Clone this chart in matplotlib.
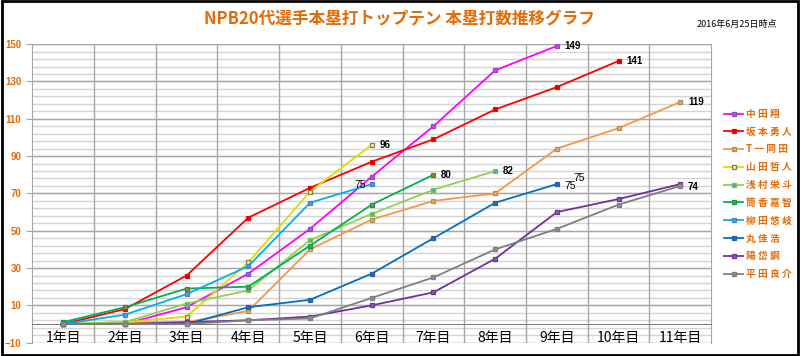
import matplotlib
matplotlib.use("Agg")
import matplotlib.pyplot as plt
from matplotlib.patches import Rectangle
import numpy as np

plt.rcParams['font.family'] = ['Noto Sans CJK JP', 'DejaVu Sans']

years = ["1年目", "2年目", "3年目", "4年目", "5年目", "6年目",
         "7年目", "8年目", "9年目", "10年目", "11年目"]

names = ["中 田 翔", "坂 本 勇 人", "T 一 岡 田", "山 田 哲 人", "浅 村 栄 斗",
         "筒 香 嘉 智", "柳 田 悠 岐", "丸 佳 浩", "陽 岱 鋼", "平 田 良 介"]

nakata = [0, 0, 9, 27, 51, 79, 106, 136, 149]
sakamoto = [0, 8, 26, 57, 73, 87, 99, 115, 127, 141]
okada = [0, 1, 1, 7, 40, 56, 66, 70, 94, 105, 119]
yamada = [0, 1, 4, 33, 71, 96]
asamura = [0, 1, 11, 18, 45, 59, 72, 82]
tsutsugo = [1, 9, 19, 20, 42, 64, 80]
yanagita = [0, 5, 16, 31, 65, 75]
maru = [0, 0, 0, 9, 13, 27, 46, 65, 75]
yoh = [0, 0, 1, 2, 4, 10, 17, 35, 60, 67, 75]
hirata = [0, 0, 0, 2, 3, 14, 25, 40, 51, 64, 74]

series = [nakata, sakamoto, okada, yamada, asamura,
          tsutsugo, yanagita, maru, yoh, hirata]

# line colour, marker face, marker edge
styles = [
    ("#FF00FF", "#E040E0", "#7A50C8"),
    ("#FF0000", "#D00000", "#FF0000"),
    ("#F79646", "#F4A460", "#A8905A"),
    ("#DDDD00", "#F4F4A0", "#8A7A40"),
    ("#92D050", "#4BACC6", "#7CBF50"),
    ("#00B050", "#C07030", "#00A050"),
    ("#00B0F0", "#30A8E8", "#4F81BD"),
    ("#0070C0", "#4060A8", "#2060B0"),
    ("#7030A0", "#8064A2", "#7030A0"),
    ("#7F7F7F", "#8C8CA0", "#7F7F7F"),
]

# label offsets in points for the last value of each series
label_offsets = [(5.5, 0), (5.5, 0), (5.5, 0), (5.5, 0), (5.5, 0),
                 (5.5, 0), (-4, -1), (5.5, -1.5), (-73, 4.5), (5.5, -1)]

orange = "#E36C09"

fig = plt.figure(figsize=(8, 3.56), dpi=100)
ax = fig.add_axes([0.0404, 0.0374, 0.8486, 0.8386])

x_all = np.arange(1, len(years) + 1)

# grid
for v in np.arange(-10, 151, 4):
    ax.axhline(v, color="#D4D4D4", lw=1, zorder=0)
for v in np.arange(-10, 151, 20):
    ax.axhline(v, color="#A6A6A6", lw=1, zorder=0.5)
for b in np.arange(1.5, len(years), 1):
    ax.axvline(b, color="#A6A6A6", lw=1, zorder=0.5)

for i, (vals, (lc, mfc, mec), name) in enumerate(zip(series, styles, names)):
    xs = x_all[:len(vals)]
    ax.plot(xs, vals, color=lc, lw=1.3, marker="s", markersize=3.5,
            markerfacecolor=mfc, markeredgecolor=mec, markeredgewidth=0.9,
            label=name, zorder=3 + i * 0.1)
    dx, dy = label_offsets[i]
    last = vals[-1]
    bold = "normal" if last == 75 else "bold"
    ha = "left" if dx > 0 else ("right" if dx > -20 else "center")
    ax.annotate(str(last), (xs[-1], last), xytext=(dx, dy),
                textcoords="offset points", ha=ha, va="center",
                fontsize=7.5 if last == 75 else 7, fontweight=bold,
                family=["Liberation Sans", "DejaVu Sans"], color="black",
                zorder=6)

ax.set_xlim(0.5, len(years) + 0.5)
ax.set_ylim(-10, 150)
ax.set_yticks(np.arange(-10, 151, 20))
ax.set_xticks(x_all)
ax.set_xticklabels(years)

for lab in ax.get_yticklabels():
    lab.set_color(orange)
    lab.set_fontweight("bold")
    lab.set_fontsize(7)
    lab.set_family(["Liberation Sans", "DejaVu Sans"])
for lab in ax.get_xticklabels():
    lab.set_color(orange)
    lab.set_fontweight("bold")
    lab.set_fontsize(7)

ax.tick_params(axis="y", length=4, color="#A6A6A6", pad=4)
ax.tick_params(axis="x", length=0, pad=5)

ax.spines["top"].set_visible(False)
ax.spines["right"].set_color("#A6A6A6")
ax.spines["left"].set_color("#A6A6A6")
ax.spines["bottom"].set_position(("data", 0))
ax.spines["bottom"].set_color("#808080")
ax.set_facecolor("white")

fig.text(0.499, 0.944, "NPB20代選手本塁打トップテン 本塁打数推移グラフ",
         ha="center", va="center", fontsize=12, fontweight="bold", color=orange)
fig.text(0.921, 0.93, "2016年6月25日時点", ha="center", va="center",
         fontsize=6.5, color="black")

leg = ax.legend(loc="upper left", bbox_to_anchor=(0.9, 0.705),
                bbox_transform=fig.transFigure, frameon=False,
                fontsize=7, handlelength=2.0, handletextpad=0.3,
                labelspacing=0.8, borderaxespad=0)
for t in leg.get_texts():
    t.set_color(orange)
    t.set_fontweight("bold")

fig.patches.append(Rectangle((0.002, 0.003), 0.995, 0.994, transform=fig.transFigure,
                             fill=False, edgecolor="black", lw=2))

fig.savefig("out.png", dpi=100)
